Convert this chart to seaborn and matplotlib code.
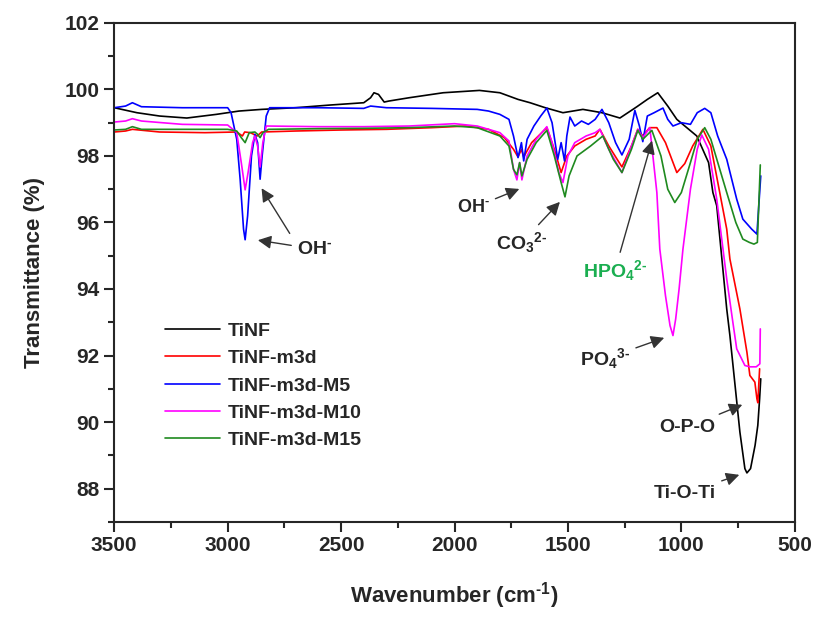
import pandas as pd
import matplotlib.pyplot as plt
import seaborn as sns
from matplotlib.ticker import MultipleLocator

# FTIR spectra, values (wavenumber cm-1, transmittance %)
tinf_wn = [3500, 3400, 3300, 3180, 3050, 2950, 2850, 2700, 2550, 2400, 2370, 2355, 2335,
           2310, 2290, 2200, 2050, 1890, 1800, 1720, 1667, 1600, 1522, 1434, 1350, 1271,
           1196, 1150, 1104, 1060, 1020, 932, 880, 861, 844, 800, 786, 742, 720, 711, 695,
           675, 663, 655, 650]
tinf_t = [99.45, 99.3, 99.2, 99.14, 99.25, 99.35, 99.4, 99.45, 99.53, 99.6, 99.75, 99.9, 99.85,
          99.62, 99.65, 99.75, 99.9, 99.97, 99.9, 99.7, 99.6, 99.45, 99.3, 99.4, 99.3, 99.14,
          99.48, 99.7, 99.9, 99.5, 99.1, 98.6, 97.8, 96.9, 96.5, 93.4, 92.6, 89.7, 88.6, 88.47, 88.6,
          89.3, 89.9, 90.7, 91.3]

m3d_wn = [3500, 3450, 3420, 3300, 3100, 2960, 2935, 2925, 2900, 2870, 2850, 2700, 2500, 2300,
          2100, 1950, 1850, 1780, 1740, 1720, 1705, 1695, 1660, 1593, 1560, 1530, 1505, 1470,
          1420, 1380, 1359, 1320, 1262, 1220, 1192, 1170, 1140, 1108, 1070, 1020, 985, 950, 905,
          870, 844, 800, 786, 742, 711, 698, 676, 667, 663, 655]
m3d_t = [98.72, 98.75, 98.8, 98.72, 98.7, 98.72, 98.6, 98.72, 98.7, 98.6, 98.72, 98.75, 98.78, 98.8,
         98.85, 98.9, 98.8, 98.55, 98.2, 97.97, 98.2, 97.97, 98.4, 98.85, 98.2, 97.5, 98.0, 98.3,
         98.5, 98.6, 98.8, 98.3, 97.67, 98.3, 98.8, 98.6, 98.85, 98.85, 98.4, 97.5, 97.77, 98.3, 98.8,
         98.3, 97.37, 95.8, 94.9, 93.4, 92.1, 91.4, 91.2, 90.7, 90.58, 91.6]

m5_wn = [3500, 3450, 3420, 3380, 3200, 3000, 2985, 2960, 2945, 2930, 2923, 2912, 2895, 2880,
         2868, 2857, 2848, 2830, 2815, 2600, 2400, 2370, 2300, 2100, 1900, 1850, 1800, 1760,
         1740, 1720, 1705, 1695, 1680, 1650, 1620, 1593, 1570, 1545, 1530, 1515, 1505, 1491,
         1470, 1440, 1410, 1380, 1350, 1320, 1290, 1262, 1230, 1205, 1185, 1170, 1150, 1120,
         1081, 1060, 1037, 1000, 960, 930, 897, 870, 840, 800, 756, 729, 690, 667, 650]
m5_t = [99.45, 99.5, 99.6, 99.48, 99.45, 99.45, 99.3, 98.5, 97.3, 95.8, 95.48, 96.2, 98.0, 98.65,
        98.4, 97.3, 98.0, 99.2, 99.45, 99.45, 99.43, 99.5, 99.45, 99.43, 99.4, 99.35, 99.25, 99.1,
        98.6, 97.95, 98.4, 97.85, 98.5, 98.9, 99.2, 99.44, 99.0, 97.9, 98.4, 97.85, 98.6, 99.17,
        98.9, 99.05, 98.95, 99.1, 99.4, 99.0, 98.4, 98.03, 98.5, 99.37, 98.9, 98.43, 99.2, 99.3,
        99.44, 99.1, 98.9, 99.0, 98.95, 99.3, 99.43, 99.3, 98.6, 97.9, 96.7, 96.1, 95.8, 95.65, 97.4]

m10_wn = [3500, 3450, 3420, 3380, 3200, 3000, 2960, 2940, 2923, 2910, 2890, 2880, 2868, 2857,
          2845, 2830, 2600, 2400, 2200, 2000, 1900, 1800, 1760, 1740, 1725, 1713, 1703, 1680,
          1640, 1593, 1570, 1540, 1522, 1500, 1470, 1420, 1380, 1359, 1320, 1262, 1220, 1192,
          1170, 1139, 1108, 1095, 1070, 1050, 1037, 1025, 1010, 993, 960, 930, 910, 880, 844,
          800, 773, 756, 720, 698, 670, 654, 652]
m10_t = [99.02, 99.05, 99.12, 99.05, 98.95, 98.93, 98.7, 97.8, 96.98, 97.5, 98.4, 98.6, 98.3, 97.67,
         98.4, 98.9, 98.88, 98.88, 98.9, 98.97, 98.9, 98.7, 98.45, 97.6, 97.28, 97.8, 97.28, 98.0,
         98.5, 98.88, 98.4, 97.5, 97.2, 98.0, 98.4, 98.6, 98.7, 98.8, 98.2, 97.5, 98.3, 98.8,
         98.55, 98.85, 96.9, 95.2, 93.8, 92.9, 92.6, 93.1, 94.0, 95.2, 97.0, 98.2, 98.63, 98.2, 96.7,
         94.3, 93.0, 92.2, 91.7, 91.66, 91.66, 91.75, 92.8]

m15_wn = [3500, 3450, 3420, 3380, 3200, 3000, 2960, 2940, 2923, 2905, 2880, 2868, 2857, 2845,
          2820, 2600, 2400, 2200, 2000, 1900, 1800, 1760, 1740, 1725, 1713, 1703, 1680, 1640,
          1593, 1560, 1530, 1513, 1495, 1460, 1400, 1346, 1300, 1262, 1220, 1192, 1170, 1130,
          1090, 1060, 1029, 1000, 960, 930, 897, 870, 800, 760, 729, 700, 680, 665, 652]
m15_t = [98.78, 98.8, 98.88, 98.8, 98.8, 98.8, 98.75, 98.55, 98.4, 98.7, 98.72, 98.65, 98.55, 98.7,
         98.8, 98.82, 98.83, 98.85, 98.9, 98.85, 98.6, 98.3, 97.6, 97.43, 97.8, 97.4, 97.9, 98.4,
         98.77, 98.0, 97.2, 96.77, 97.4, 98.0, 98.3, 98.6, 97.9, 97.5, 98.2, 98.77, 98.5, 98.77,
         98.0, 97.0, 96.6, 96.9, 97.8, 98.5, 98.85, 98.5, 96.9, 96.0, 95.5, 95.4, 95.35, 95.4, 97.73]

labels = ["TiNF", "TiNF-m3d", "TiNF-m3d-M5", "TiNF-m3d-M10", "TiNF-m3d-M15"]
colors = ["#000000", "#ff0000", "#0000ff", "#ff00ff", "#1f8a1f"]

series = [(tinf_wn, tinf_t), (m3d_wn, m3d_t), (m5_wn, m5_t), (m10_wn, m10_t), (m15_wn, m15_t)]
frames = []
for name, (wn, t) in zip(labels, series):
    frames.append(pd.DataFrame({"wn": wn, "T": t, "sample": name}))
df = pd.concat(frames, ignore_index=True)

sns.set_style("ticks")
plt.rcParams["font.family"] = ["Liberation Sans", "DejaVu Sans"]
plt.rcParams["font.weight"] = "bold"
plt.rcParams["axes.labelweight"] = "bold"
plt.rcParams["mathtext.fontset"] = "custom"
plt.rcParams["mathtext.rm"] = "Liberation Sans:bold"
plt.rcParams["mathtext.bf"] = "Liberation Sans:bold"
plt.rcParams["mathtext.default"] = "rm"

fig = plt.figure(figsize=(8.16, 6.19), dpi=100)
ax = fig.add_axes([0.14, 0.157, 0.834, 0.806])

sns.lineplot(data=df, x="wn", y="T", hue="sample", hue_order=labels,
             palette=dict(zip(labels, colors)), estimator=None, sort=False,
             linewidth=1.2, ax=ax)

ax.set_xlim(3500, 500)
ax.set_ylim(87, 102)
ax.xaxis.set_major_locator(MultipleLocator(500))
ax.xaxis.set_minor_locator(MultipleLocator(250))
ax.yaxis.set_major_locator(MultipleLocator(2))
ax.yaxis.set_minor_locator(MultipleLocator(1))
ax.tick_params(which="major", length=7, width=1.5, labelsize=15, direction="out")
ax.tick_params(which="minor", length=4, width=1.5, direction="out")
for lab in ax.get_xticklabels() + ax.get_yticklabels():
    lab.set_fontweight("bold")
for sp in ax.spines.values():
    sp.set_linewidth(1.5)

ax.set_xlabel(r"Wavenumber (cm$^{\text{-1}}$)", fontsize=16, labelpad=18)
ax.set_ylabel("Transmittance (%)", fontsize=16, labelpad=14)

handles, _ = ax.get_legend_handles_labels()
ax.legend(handles, labels, loc="upper left", bbox_to_anchor=(0.075, 0.40),
          frameon=False, fontsize=14, handlelength=2.8, handletextpad=0.4,
          labelspacing=0.5, borderaxespad=0, borderpad=0)

arrow = dict(arrowstyle="-|>", color="#333333", lw=1.0, mutation_scale=20)
txt = dict(fontsize=14, fontweight="bold", ha="center", va="center")
ax.annotate(r"OH$^{\text{-}}$", xy=(2879, 95.48), xytext=(2615, 95.2), arrowprops=arrow, **txt)
ax.annotate("", xy=(2857, 97.1), xytext=(2720, 95.6), arrowprops=arrow)
ax.annotate(r"OH$^{\text{-}}$", xy=(1703, 97.04), xytext=(1918, 96.44), arrowprops=arrow, fontsize=13,
            fontweight="bold", ha="center", va="center")
ax.annotate(r"CO$_3$$^{\text{2-}}$", xy=(1527, 96.68), xytext=(1703, 95.4), arrowprops=arrow, **txt)
ax.annotate(r"HPO$_4$$^{\text{2-}}$", xy=(1126, 98.54), xytext=(1293, 94.55), arrowprops=arrow,
            color="#1aae50", fontsize=14, fontweight="bold", ha="center", va="center")
ax.annotate(r"PO$_4$$^{\text{3-}}$", xy=(1064, 92.56), xytext=(1337, 91.9), arrowprops=arrow, **txt)
ax.annotate("O-P-O", xy=(720, 90.55), xytext=(972, 89.85), arrowprops=arrow, **txt)
ax.annotate("Ti-O-Ti", xy=(733, 88.44), xytext=(985, 87.85), arrowprops=arrow, **txt)

plt.savefig("out.png", dpi=100)
